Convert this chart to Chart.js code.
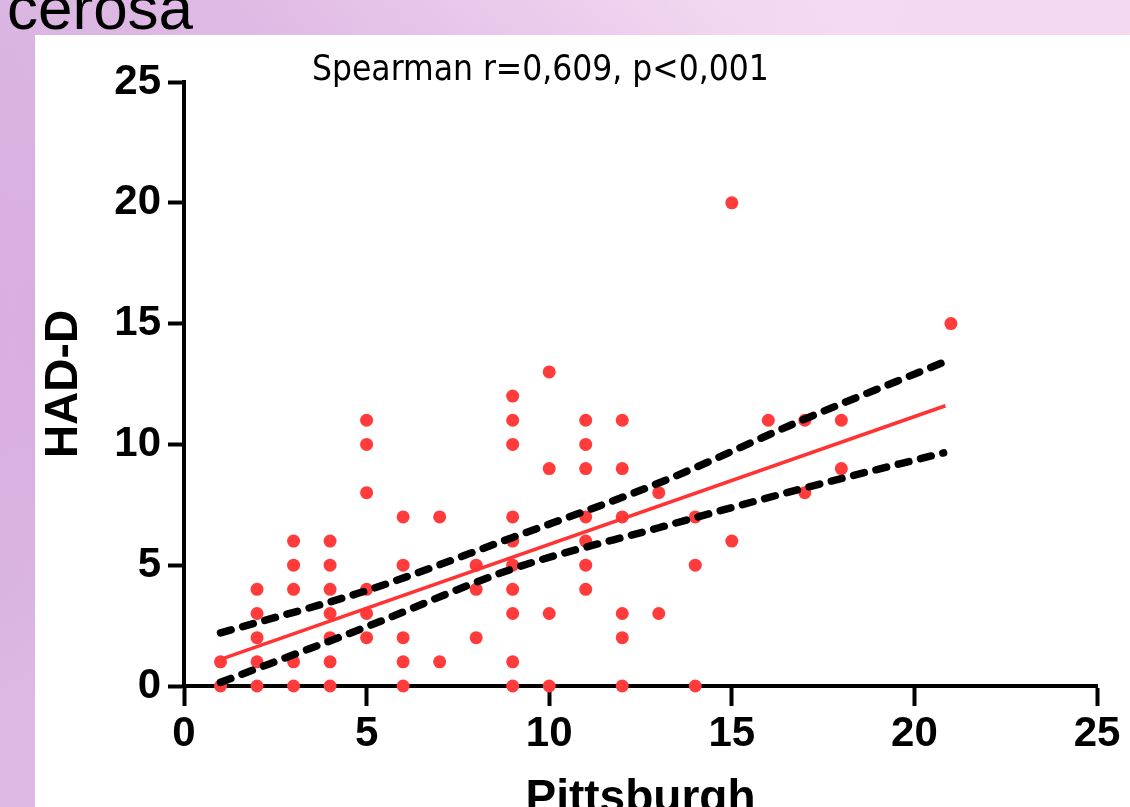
<!DOCTYPE html>
<html>
<head>
<meta charset="utf-8">
<script src="https://cdn.jsdelivr.net/npm/chart.js@4.4.1/dist/chart.umd.min.js"></script>
<style>
  html, body { margin: 0; padding: 0; }
  body {
    width: 1130px; height: 807px; overflow: hidden; position: relative;
    background:
      radial-gradient(ellipse at 20% 40%, rgba(214,170,222,0.9), rgba(214,170,222,0) 60%),
      radial-gradient(ellipse at 75% 0%, rgba(244,220,242,0.9), rgba(244,220,242,0) 50%),
      linear-gradient(90deg, #dcb8e2 0%, #e8c6ea 40%, #f1d8ef 100%);
  }
  #slideTitle {
    position: absolute; left: 7px; top: -27px;
    font: 62px "Liberation Sans", Arial, sans-serif; color: #000; line-height: 70px;
  }
  #panel {
    position: absolute; left: 35px; top: 35px; right: 0; bottom: 0; background: #fff;
  }
  #chart { position: absolute; left: 0; top: 0; }
</style>
</head>
<body>
<div id="slideTitle">cerosa</div>
<div id="panel"></div>
<canvas id="chart" width="1130" height="807"></canvas>
<script>
// scatter values (Pittsburgh score vs HAD-D score)
const pittsburgh = [
  1, 1,
  2, 2, 2, 2, 2,
  3, 3, 3, 3, 3,
  4, 4, 4, 4, 4, 4, 4,
  5, 5, 5, 5, 5, 5,
  6, 6, 6, 6, 6,
  7, 7,
  8, 8, 8,
  9, 9, 9, 9, 9, 9, 9, 9, 9, 9,
  10, 10, 10, 10,
  11, 11, 11, 11, 11, 11, 11,
  12, 12, 12, 12, 12, 12,
  13, 13,
  14, 14, 14,
  15, 15,
  16,
  17, 17,
  18, 18,
  21
];
const hadD = [
  1, 0,
  4, 3, 2, 1, 0,
  6, 5, 4, 1, 0,
  6, 5, 4, 3, 2, 1, 0,
  11, 10, 8, 4, 3, 2,
  7, 5, 2, 1, 0,
  7, 1,
  5, 4, 2,
  12, 11, 10, 7, 6, 5, 4, 3, 1, 0,
  13, 9, 3, 0,
  11, 10, 9, 7, 6, 5, 4,
  11, 9, 7, 3, 2, 0,
  8, 3,
  7, 5, 0,
  20, 6,
  11,
  11, 8,
  11, 9,
  15
];

// regression line and 95% confidence bands
const fitX = [1, 20.85];
const fitY = [1.1, 11.6];
const bandX = [1, 5, 9, 13, 17, 20.8];
const upperY = [2.2, 3.95, 6.15, 8.4, 11.05, 13.4];
const lowerY = [0.15, 2.45, 4.85, 6.55, 8.2, 9.65];

const xTicks = [0, 5, 10, 15, 20, 25];
const yTicks = [0, 5, 10, 15, 20, 25];
const statText = "Spearman r=0,609, p<0,001";

const toPoints = (xs, ys) => xs.map((x, i) => ({ x: x, y: ys[i] }));

const tickFont = { family: "Liberation Sans", size: 42, weight: "bold" };
const titleFont = { family: "Liberation Sans", size: 46, weight: "bold" };

const statPlugin = {
  id: "statText",
  afterDraw(chart) {
    const ctx = chart.ctx;
    ctx.save();
    ctx.font = '35px "DejaVu Sans Condensed", "DejaVu Sans", sans-serif';
    ctx.fillStyle = "#000";
    ctx.textBaseline = "alphabetic";
    ctx.fillText(statText, 312, 80);
    ctx.restore();
  }
};

const bandStyle = {
  showLine: true,
  borderColor: "#000",
  borderWidth: 7.5,
  borderDash: [11, 12],
  borderCapStyle: "round",
  cubicInterpolationMode: "monotone",
  pointRadius: 0,
  clip: false,
  order: 1
};

new Chart(document.getElementById("chart").getContext("2d"), {
  type: "scatter",
  data: {
    datasets: [
      {
        label: "HAD-D",
        data: toPoints(pittsburgh, hadD),
        backgroundColor: "#ff3b3b",
        borderWidth: 0,
        pointRadius: 6.5,
        clip: false,
        order: 3
      },
      {
        label: "fit",
        data: toPoints(fitX, fitY),
        showLine: true,
        borderColor: "#ff3333",
        borderWidth: 3.5,
        pointRadius: 0,
        clip: false,
        order: 2
      },
      Object.assign({ label: "upper", data: toPoints(bandX, upperY) }, bandStyle),
      Object.assign({ label: "lower", data: toPoints(bandX, lowerY) }, bandStyle)
    ]
  },
  options: {
    responsive: false,
    animation: false,
    layout: { padding: { left: 0, right: 33, top: 82, bottom: 0 } },
    plugins: { legend: { display: false }, tooltip: { enabled: false } },
    scales: {
      x: {
        type: "linear",
        min: 0,
        max: 25,
        afterBuildTicks: (scale) => { scale.ticks = xTicks.map(v => ({ value: v })); },
        afterFit: (scale) => { scale.height = 121; },
        ticks: { font: tickFont, color: "#000", padding: 3, maxRotation: 0 },
        grid: { drawOnChartArea: false, drawTicks: true, tickLength: 20, tickWidth: 4, tickColor: "#000" },
        border: { color: "#000", width: 4 },
        title: { display: true, text: "Pittsburgh", font: titleFont, color: "#000", padding: { top: 0, bottom: -20 } }
      },
      y: {
        type: "linear",
        min: 0,
        max: 25,
        afterBuildTicks: (scale) => { scale.ticks = yTicks.map(v => ({ value: v })); },
        afterFit: (scale) => { scale.width = 184; },
        ticks: { font: tickFont, color: "#000", padding: 7 },
        grid: { drawOnChartArea: false, drawTicks: true, tickLength: 16, tickWidth: 4, tickColor: "#000" },
        border: { color: "#000", width: 4 },
        title: { display: true, text: "HAD-D", font: titleFont, color: "#000", padding: { top: 37, bottom: 0 } }
      }
    }
  },
  plugins: [statPlugin]
});
</script>
</body>
</html>
